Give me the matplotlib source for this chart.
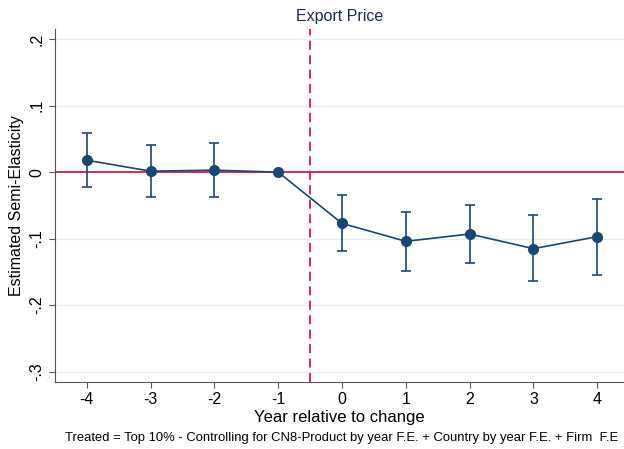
import numpy as np
import matplotlib
matplotlib.use('Agg')
import matplotlib.pyplot as plt

# event-study estimates
years = [-4, -3, -2, -1, 0, 1, 2, 3, 4]
coef = [0.018, 0.0015, 0.003, 0.0, -0.077, -0.104, -0.093, -0.115, -0.097]
ci_hi = [0.059, 0.041, 0.044, 0.0, -0.035, -0.060, -0.049, -0.065, -0.041]
ci_lo = [-0.022, -0.038, -0.037, 0.0, -0.119, -0.148, -0.136, -0.163, -0.154]
yticks = [-0.3, -0.2, -0.1, 0, 0.1, 0.2]
ytick_labels = ['-.3', '-.2', '-.1', '0', '.1', '.2']

navy = '#1a476f'
red = '#d21d4f'

plt.rcParams['font.family'] = 'Liberation Sans'

fig = plt.figure(figsize=(6.24, 4.49), dpi=100)
ax = fig.add_axes([0.088, 0.150, 0.912, 0.785])

coef = np.array(coef)
yerr = np.array([coef - np.array(ci_lo), np.array(ci_hi) - coef])

ax.axhline(0, color=red, lw=1.3, zorder=1)
ax.axvline(-0.5, color=red, lw=1.3, ls=(0, (5, 3)), zorder=1)
ax.errorbar(years, coef, yerr=yerr, fmt='none', ecolor=navy, elinewidth=1.2,
            capsize=3.5, capthick=1.2, zorder=2)
ax.plot(years, coef, color=navy, lw=1.2, marker='o', ms=7, zorder=3)

ax.set_xlim(-4.5, 4.42)
ax.set_ylim(-0.315, 0.215)
ax.set_xticks(years)
ax.set_xticklabels([str(y) for y in years])
ax.set_yticks(yticks)
ax.set_yticklabels(ytick_labels, rotation=90, va='center')
ax.grid(axis='y', color='#e6eef0', lw=1, zorder=0)
ax.set_axisbelow(True)

for s in ['top', 'right']:
    ax.spines[s].set_visible(False)
ax.spines['left'].set_color('#555555')
ax.spines['bottom'].set_color('#555555')
ax.tick_params(labelsize=11.5, length=4, color='#555555')

ax.set_title('Export Price', fontsize=11.5, color='#1e2c4f', pad=6)
ax.set_xlabel('Year relative to change', fontsize=12, labelpad=2)
ax.set_ylabel('Estimated Semi-Elasticity', fontsize=11.5, labelpad=4)

fig.text(0.547, 0.025, 'Treated = Top 10% - Controlling for CN8-Product by year F.E. + Country by year F.E. + Firm  F.E',
         ha='center', va='center', fontsize=9.4)

plt.savefig('out.png', dpi=100)
